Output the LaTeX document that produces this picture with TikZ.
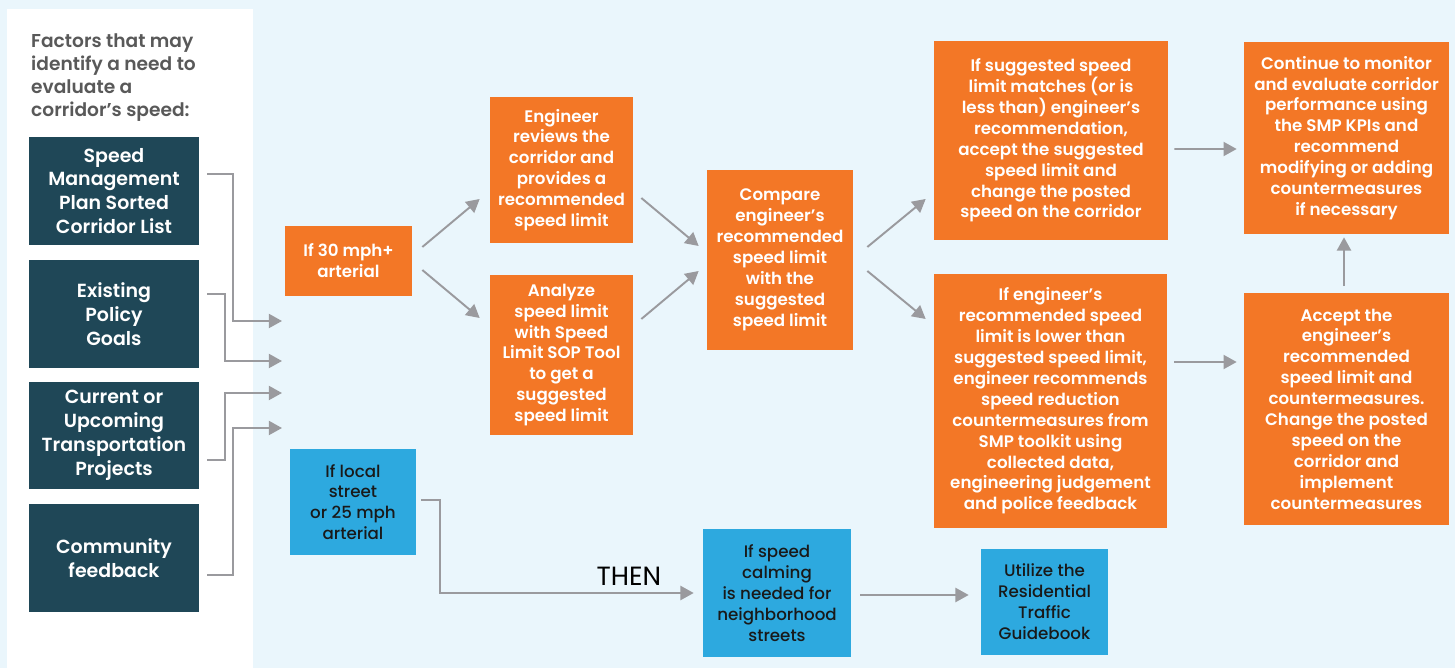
\documentclass[tikz,border=0pt]{standalone}
\usepackage{fontspec}
\setmainfont{Poppins}[BoldFont={Poppins SemiBold}]
\newfontfamily\medfont{Poppins Medium}
\usepackage{tikz}
\usetikzlibrary{calc,positioning,arrows.meta}

\definecolor{smporange}{HTML}{F37726}
\definecolor{smpteal}{HTML}{1F4757}
\definecolor{smpblue}{HTML}{2DA9DF}
\definecolor{smpbg}{HTML}{EAF6FC}
\definecolor{smpgray}{HTML}{9A9A9E}
\definecolor{smptitle}{HTML}{595959}

\begin{document}
\begin{tikzpicture}[x=0.02cm,y=-0.02cm,
    orng/.style={fill=smporange,text=white,font=\fontsize{9.5}{11.9}\selectfont\bfseries,align=center,inner sep=0pt},
    dark/.style={fill=smpteal,text=white,font=\fontsize{10.8}{13.6}\selectfont\bfseries,align=center,inner sep=0pt,minimum width=3.4cm,minimum height=2.16cm},
    blu/.style={fill=smpblue,text=black!90,font=\fontsize{9.5}{11.9}\selectfont\medfont,align=center,inner sep=0pt},
    arr/.style={draw=smpgray,line width=1.1pt,-{Triangle[length=7.5pt,width=8pt]}}]
    \useasboundingbox (0,0) rectangle (1455,668);
    \fill[smpbg] (0,0) rectangle (1455,668);
    \fill[white] (7,9) rectangle (253,668);

    \node[anchor=north west,align=left,text=smptitle,font=\fontsize{10.6}{13}\selectfont\bfseries] (title) at (25,28) {Factors that may\\identify a need to\\evaluate a\\corridor’s speed:};

    \node[dark] (b1) at (114,191) {Speed\\Management\\Plan Sorted\\Corridor List};
    \node[dark] (b2) at (114,314) {Existing\\Policy\\Goals};
    \node[dark] (b3) at (114,435.5) {Current or\\Upcoming\\Transportation\\Projects};
    \node[dark] (b4) at (114,558) {Community\\feedback};

    \coordinate (in1) at (282,321);
    \coordinate (in2) at (282,361);
    \coordinate (in3) at (282,393);
    \coordinate (in4) at (282,428);

    \node[orng,minimum width=2.54cm,minimum height=1.4cm] (o30) at (348.5,261) {If 30 mph+\\arterial};
    \node[orng,minimum width=2.86cm,minimum height=2.92cm] (eng) at (561.5,170) {Engineer\\reviews the\\corridor and\\provides a\\recommended\\speed limit};
    \node[orng,minimum width=2.86cm,minimum height=3.2cm] (ana) at (561.5,355) {Analyze\\speed limit\\with Speed\\Limit SOP Tool\\to get a\\suggested\\speed limit};
    \node[orng,minimum width=2.92cm,minimum height=3.62cm] (cmp) at (780,260) {Compare\\engineer’s\\recommended\\speed limit\\with the\\suggested\\speed limit};
    \node[orng,minimum width=4.68cm,minimum height=3.98cm] (match) at (1051,140.5) {If suggested speed\\limit matches (or is\\less than) engineer’s\\recommendation,\\accept the suggested\\speed limit and\\change the posted\\speed on the corridor};
    \node[orng,minimum width=4.66cm,minimum height=5.08cm] (lower) at (1050.5,401) {If engineer’s\\recommended speed\\limit is lower than\\suggested speed limit,\\engineer recommends\\speed reduction\\countermeasures from\\SMP toolkit using\\collected data,\\engineering judgement\\and police feedback};
    \node[orng,minimum width=4.1cm,minimum height=3.84cm] (mon) at (1346.5,138) {Continue to monitor\\and evaluate corridor\\performance using\\the SMP KPIs and\\recommend\\modifying or adding\\countermeasures\\if necessary};
    \node[orng,minimum width=4.1cm,minimum height=4.66cm] (acc) at (1346.5,409) {Accept the\\engineer’s\\recommended\\speed limit and\\countermeasures.\\Change the posted\\speed on the\\corridor and\\implement\\countermeasures};

    \node[blu,minimum width=2.52cm,minimum height=2.14cm] (local) at (353,502) {If local\\street\\or 25 mph\\arterial};
    \node[blu,minimum width=2.96cm,minimum height=2.56cm] (calm) at (777,593) {If speed\\calming\\is needed for\\neighborhood\\streets};
    \node[blu,minimum width=2.54cm,minimum height=2.14cm] (guide) at (1044.5,602) {Utilize the\\Residential\\Traffic\\Guidebook};

    % factors into the decision
    \draw[arr] ($(b1.east)+(8,-17)$) -- ++(26,0) |- (in1);
    \draw[arr] ($(b2.east)+(8,-20)$) -- ++(18,0) |- (in2);
    \draw[arr] ($(b3.east)+(8,24.5)$) -- ++(18,0) |- (in3);
    \draw[arr] ($(b4.east)+(8,17)$) -- ++(26,0) |- (in4);

    % arterial branch
    \draw[arr] ($(o30.east)+(10,-14)$) -- ($(eng.west)+(-10,29)$);
    \draw[arr] ($(o30.east)+(10,9)$) -- ($(ana.west)+(-10,-37)$);
    \draw[arr] ($(eng.east)+(8,28)$) -- ($(cmp.west)+(-8,-14)$);
    \draw[arr] ($(ana.east)+(8,-36)$) -- ($(cmp.west)+(-8,11)$);
    \draw[arr] ($(cmp.east)+(14,-13)$) -- ($(match.west)+(-8,58.5)$);
    \draw[arr] ($(cmp.east)+(14,11)$) -- ($(lower.west)+(-8,-82)$);
    \draw[arr] ($(match.east)+(6,8.5)$) -- ($(mon.west)+(-7,11)$);
    \draw[arr] ($(lower.east)+(7,-39)$) -- ($(acc.west)+(-7,-47)$);
    \draw[arr] ($(acc.north)+(-2.5,-6)$) -- ($(mon.south)+(-2.5,3)$);

    % local branch
    \draw[arr] ($(local.east)+(5,-2)$) -- ++(19,0) |- ($(calm.west)+(-9,0)$);
    \node[font=\fontsize{15}{17}\selectfont] (then) at (629,576) {THEN};
    \draw[arr] ($(calm.east)+(9,2)$) -- ($(guide.west)+(-12,-7)$);
\end{tikzpicture}
\end{document}
